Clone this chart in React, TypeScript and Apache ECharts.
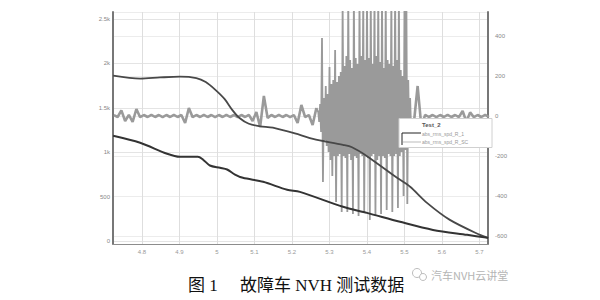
import React, { useEffect, useRef } from "react";
import * as echarts from "echarts";

// speed-like curves on the left axis: [time s, value]
const speedUpper: [number, number][] = [
  [4.723, 1863], [4.795, 1829], [4.848, 1842], [4.901, 1851], [4.945, 1835],
  [4.970, 1790], [4.995, 1705], [5.020, 1600], [5.040, 1480], [5.060, 1385],
  [5.085, 1320], [5.115, 1292], [5.149, 1276], [5.221, 1195], [5.256, 1150],
  [5.336, 1082], [5.360, 1055], [5.400, 955], [5.480, 711], [5.515, 610],
  [5.560, 429], [5.621, 237], [5.701, 68], [5.723, 34],
];

const speedLower: [number, number][] = [
  [4.723, 1185], [4.795, 1106], [4.867, 982], [4.901, 948], [4.949, 948],
  [4.963, 915], [4.981, 850], [5.008, 824], [5.027, 805], [5.048, 748],
  [5.069, 711], [5.123, 666], [5.187, 576], [5.221, 553], [5.336, 384],
  [5.400, 316], [5.488, 215], [5.576, 124], [5.667, 68], [5.723, 34],
];

// vibration signal on the right axis, in three sampled stretches
const vibPreStart = 4.725;
const vibPreStep = 0.01;
const vibPre = [
  4, -5, 28, -25, 6, -30, 35, -6, 5, -5,
  6, -5, 5, -6, 5, -5, 6, -5, 5, -35,
  40, -6, 5, -5, 6, -5, 5, -6, 5, -5,
  6, -5, 5, -6, 5, -5, 6, -25, 20, -55,
  100, -10, 5, -5, 6, -5, 5, -6, 5, -35,
  55, -6, 5, -45, 40,
];

const vibBurstStart = 5.27;
const vibBurstStep = 0.0025;
const vibBurst = [
  20, -30, 60, -80, 390, -330, 90, -120, 150, -150,
  110, -180, 245, -220, 160, -300, 180, -200, 330, -430,
  170, -200, 200, -190, 220, -480, 560, -200, 250, -210,
  300, -480, 600, -190, 280, -220, 240, -490, 600, -200,
  290, -210, 260, -500, 600, -190, 300, -200, 600, -480,
  280, -200, 600, -210, 290, -520, 600, -200, 260, -190,
  600, -500, 300, -220, 600, -200, 270, -490, 600, -200,
  240, -210, 600, -470, 280, -190, 260, -200, 600, -480,
  250, -200, 600, -190, 280, -460, 600, -200, 230, -180,
  200, -400, 600, -170, 600, -440, 180, -120, 90, -60,
];

const vibPostStart = 5.525;
const vibPostStep = 0.01;
const vibPost = [
  -35, 150, -55, 6, -5, 5, -6, 5, -5, 6,
  -5, 5, -6, 25, -28, 18, -6, 5, -5, 6, -5,
];

const legendTitle = "Test_2";
const legendItems = ["abs_rms_spd_R_1", "abs_rms_spd_R_SC"];
const captionLabel = "图 1";
const captionText = "故障车 NVH 测试数据";
const watermark = "汽车NVH云讲堂";

function stretch(start: number, step: number, vals: number[]): [number, number][] {
  return vals.map((v, i) => [+(start + i * step).toFixed(5), v]);
}

export default function App() {
  const ref = useRef<HTMLDivElement>(null);
  useEffect(() => {
    if (!ref.current) return;
    const chart = echarts.init(ref.current, undefined, { renderer: "svg" });
    const pre = stretch(vibPreStart, vibPreStep, vibPre);
    const burst = [pre[pre.length - 1], ...stretch(vibBurstStart, vibBurstStep, vibBurst)];
    const postRaw = stretch(vibPostStart, vibPostStep, vibPost);
    const post = [burst[burst.length - 1], ...postRaw];
    const labelFont = "Liberation Sans, Arial, sans-serif";
    const capFont = "Liberation Serif, Noto Sans CJK SC, serif";
    const vibColor = "#9a9a9a";
    chart.setOption({
      animation: false,
      backgroundColor: "#ffffff",
      grid: { left: 113, right: 112, top: 12, bottom: 56 },
      xAxis: {
        type: "value",
        min: 4.72267,
        max: 5.72267,
        splitNumber: 10,
        axisLine: { show: true, onZero: false, lineStyle: { color: "#8c8c8c", width: 1 } },
        axisTick: { show: false },
        axisLabel: {
          fontSize: 6,
          color: "#999",
          margin: 5,
          fontFamily: labelFont,
          formatter: (v: number) => {
            const r = Math.round(v * 10) / 10;
            if (Math.abs(v - r) > 1e-6) return "";
            return String(r);
          },
        },
        splitLine: { show: true, lineStyle: { color: "#dedede", width: 1 } },
      },
      yAxis: [
        {
          type: "value",
          position: "left",
          min: -35,
          max: 2580,
          splitNumber: 5,
          axisLine: { show: true, lineStyle: { color: "#777", width: 2 } },
          axisTick: { show: false },
          axisLabel: {
            fontSize: 6,
            color: "#888",
            margin: 3,
            fontFamily: labelFont,
            formatter: (v: number) => {
              if (v < 0 || Math.abs(v % 500) > 1e-6) return "";
              return v >= 1000 ? v / 1000 + "k" : String(v);
            },
          },
          splitLine: { show: true, lineStyle: { color: "#e4e4e4", width: 1 } },
        },
        {
          type: "value",
          position: "right",
          min: -640,
          max: 520,
          splitNumber: 5,
          axisLine: { show: true, lineStyle: { color: "#777", width: 2 } },
          axisTick: { show: false },
          axisLabel: {
            fontSize: 6,
            color: "#888",
            margin: 7,
            fontFamily: labelFont,
            formatter: (v: number) => (Math.abs(v % 200) > 1e-6 ? "" : String(v)),
          },
          splitLine: { show: true, lineStyle: { color: "#ececec", width: 1 } },
        },
      ],
      series: [
        {
          type: "line",
          yAxisIndex: 1,
          data: pre,
          symbol: "none",
          clip: true,
          lineStyle: { color: vibColor, width: 2.6 },
          z: 2,
        },
        {
          type: "line",
          yAxisIndex: 1,
          data: burst,
          symbol: "none",
          clip: true,
          lineStyle: { color: vibColor, width: 1.8 },
          z: 2,
        },
        {
          type: "line",
          yAxisIndex: 1,
          data: post,
          symbol: "none",
          clip: true,
          lineStyle: { color: vibColor, width: 2.6 },
          z: 2,
        },
        {
          type: "line",
          yAxisIndex: 0,
          data: speedUpper,
          symbol: "none",
          smooth: 0.3,
          lineStyle: { color: "#484848", width: 1.8 },
          z: 3,
        },
        {
          type: "line",
          yAxisIndex: 0,
          data: speedLower,
          symbol: "none",
          smooth: 0.3,
          lineStyle: { color: "#333", width: 2 },
          z: 3,
        },
      ],
      graphic: [
        {
          type: "rect",
          z: 100,
          shape: { x: 399, y: 118.5, width: 93, height: 29 },
          style: { fill: "#ffffff", stroke: "#d0d0d0", lineWidth: 1 },
        },
        {
          type: "polyline",
          z: 101,
          shape: { points: [[402, 145], [402, 133], [421, 133]] },
          style: { stroke: "#222", lineWidth: 1, fill: "none" },
        },
        {
          type: "line",
          z: 101,
          shape: { x1: 403, y1: 142, x2: 421, y2: 142 },
          style: { stroke: "#bbb", lineWidth: 1 },
        },
        {
          type: "text",
          z: 101,
          x: 422,
          y: 125,
          style: { text: legendTitle, fontSize: 6, fontWeight: "bold", fill: "#555", fontFamily: labelFont, verticalAlign: "middle" },
        },
        {
          type: "text",
          z: 101,
          x: 422,
          y: 133.5,
          style: { text: legendItems[0], fontSize: 5, fill: "#999", fontFamily: labelFont, verticalAlign: "middle" },
        },
        {
          type: "text",
          z: 101,
          x: 422,
          y: 141.5,
          style: { text: legendItems[1], fontSize: 5, fill: "#999", fontFamily: labelFont, verticalAlign: "middle" },
        },
        {
          type: "text",
          x: 188,
          y: 285,
          style: { text: captionLabel, fontSize: 17, fill: "#111", fontFamily: capFont, verticalAlign: "middle" },
        },
        {
          type: "text",
          x: 240,
          y: 285,
          style: { text: captionText, fontSize: 17, fill: "#111", fontFamily: capFont, verticalAlign: "middle" },
        },
        {
          type: "circle",
          shape: { cx: 417, cy: 273, r: 4.5 },
          style: { fill: "none", stroke: "#bdbdbd", lineWidth: 1 },
        },
        {
          type: "circle",
          shape: { cx: 423, cy: 277, r: 3.5 },
          style: { fill: "#fff", stroke: "#bdbdbd", lineWidth: 1 },
        },
        {
          type: "text",
          x: 431,
          y: 275,
          style: { text: watermark, fontSize: 11, fill: "#b5b5b5", fontFamily: "Noto Sans CJK SC, sans-serif", verticalAlign: "middle" },
        },
      ],
    });
    return () => chart.dispose();
  }, []);
  return (
    <div
      ref={ref}
      style={{ position: "absolute", left: 0, top: 0, width: 600, height: 300, background: "#fff" }}
    />
  );
}
